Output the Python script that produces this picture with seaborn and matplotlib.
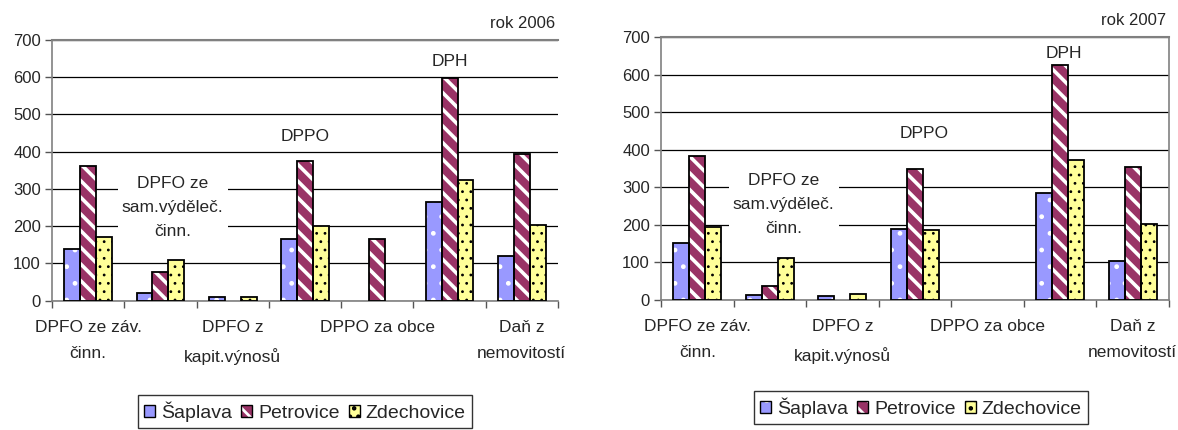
import matplotlib
matplotlib.use("Agg")
import matplotlib.pyplot as plt
from matplotlib.patches import Patch, Rectangle
from matplotlib.legend_handler import HandlerTuple
import seaborn as sns
import pandas as pd

categories = ["DPFO ze záv.\nčinn.", "DPFO ze\nsam.výděleč.\nčinn.", "DPFO z\nkapit.výnosů",
              "DPPO", "DPPO za obce", "DPH", "Daň z\nnemovitostí"]
obce = ["Šaplava", "Petrovice", "Zdechovice"]

saplava_2006 = [138, 20, 11, 167, 0, 266, 120]
petrovice_2006 = [362, 76, 0, 375, 167, 599, 395]
zdechovice_2006 = [171, 110, 11, 200, 0, 323, 204]

saplava_2007 = [152, 14, 11, 189, 0, 285, 105]
petrovice_2007 = [382, 38, 0, 350, 0, 626, 354]
zdechovice_2007 = [193, 111, 15, 185, 0, 372, 202]

years = ["rok 2006", "rok 2007"]

colors = {"Šaplava": "#9999FF", "Petrovice": "#993366", "Zdechovice": "#FFFF99"}
hatches = {"Šaplava": ".", "Petrovice": "\\\\", "Zdechovice": ".."}
hatch_cols = {"Šaplava": "white", "Petrovice": "white", "Zdechovice": "black"}
hatch_lw = {"Šaplava": 1.0, "Petrovice": 2.6, "Zdechovice": 0.8}

sns.set_theme(style="white")
plt.rcParams["font.family"] = ["Liberation Sans", "DejaVu Sans"]
plt.rcParams["hatch.linewidth"] = 2.0

W, H = 1178, 430
fig = plt.figure(figsize=(W / 100, H / 100), dpi=100)

def make_df(s, p, z):
    rows = []
    for vals, name in zip([s, p, z], obce):
        for c, v in zip(categories, vals):
            rows.append({"kat": c, "val": v, "obec": name})
    return pd.DataFrame(rows)

datasets = [make_df(saplava_2006, petrovice_2006, zdechovice_2006),
            make_df(saplava_2007, petrovice_2007, zdechovice_2007)]

axes_px = [(52, 40, 558, 300.7), (661, 37, 1169, 300)]
inner_labels = [
    [(1.17, 250, categories[1]), (3.0, 440, "DPPO"), (5.0, 642, "DPH")],
    [(1.19, 253, categories[1]), (3.12, 444, "DPPO"), (5.05, 657, "DPH")],
]
legend_centers = [(305, 411.5), (921, 407.5)]
FS = 12.5

for k in range(2):
    x0, y0, x1, y1 = axes_px[k]
    ax = fig.add_axes([x0 / W, 1 - y1 / H, (x1 - x0) / W, (y1 - y0) / H])
    df = datasets[k]
    sns.barplot(data=df, x="kat", y="val", hue="obec", hue_order=obce, order=categories,
                palette=colors, width=0.66, ax=ax, legend=False, saturation=1,
                errorbar=None)
    for cont, name in zip(ax.containers, obce):
        for bar in cont:
            bar.set_hatch(hatches[name])
            bar.set_edgecolor(hatch_cols[name])
            bar.set_linewidth(0)
            if hasattr(bar, "set_hatch_linewidth"):
                bar.set_hatch_linewidth(hatch_lw[name])
            h = bar.get_height()
            if h > 0:
                ax.add_patch(Rectangle((bar.get_x(), 0), bar.get_width(), h,
                                       fill=False, edgecolor="black", linewidth=1.3,
                                       zorder=3))
    ax.set_ylim(0, 700)
    ax.set_xlim(-0.5, 6.5)
    ax.set_yticks(range(0, 701, 100))
    ax.yaxis.grid(True, color="black", linewidth=0.9)
    ax.set_axisbelow(True)
    ax.set_xlabel("")
    ax.set_ylabel("")
    ax.set_xticks([i - 0.5 for i in range(8)])
    ax.set_xticklabels([])
    ax.set_xticks([0, 2, 4, 6], minor=True)
    ax.set_xticklabels([categories[i] for i in [0, 2, 4, 6]], minor=True,
                       fontsize=FS, linespacing=1.9)
    ax.tick_params(axis="x", which="major", length=5, width=1, color="#555555",
                   direction="out", bottom=True)
    ax.tick_params(axis="x", which="minor", length=0, pad=14)
    ax.tick_params(axis="y", length=5, width=1, color="#555555", direction="out",
                   left=True, labelsize=12, pad=3)
    for s in ["left", "bottom"]:
        ax.spines[s].set_color("#808080")
        ax.spines[s].set_linewidth(1.2)
    ax.spines["top"].set_color("#808080")
    ax.spines["top"].set_linewidth(1.5)
    ax.spines["right"].set_visible(k == 1)
    ax.spines["right"].set_color("#808080")
    ax.spines["right"].set_linewidth(1.2)

    for (tx, ty, txt) in inner_labels[k]:
        ax.text(tx, ty, txt, ha="center", va="center", fontsize=FS, linespacing=1.75,
                zorder=2,
                bbox=dict(facecolor="white", edgecolor="none", pad=3) if "\n" in txt else None)

    ax.annotate(years[k], xy=(1.0, 1.0), xycoords="axes fraction",
                xytext=(-2, 12), textcoords="offset points",
                ha="right", va="center", fontsize=12)

    handles = []
    for name in obce:
        handles.append((Patch(facecolor=colors[name], hatch=hatches[name],
                              edgecolor=hatch_cols[name], linewidth=0),
                        Patch(fill=False, edgecolor="black", linewidth=1.0)))
    cx, cy = legend_centers[k]
    leg = fig.legend(handles, obce, loc="center", bbox_to_anchor=(cx / W, 1 - cy / H),
                     ncol=3, fontsize=14, frameon=True, fancybox=False,
                     handler_map={tuple: HandlerTuple(ndivide=1)},
                     handlelength=0.55, handleheight=0.55, handletextpad=0.3,
                     columnspacing=0.5, borderpad=0.3, borderaxespad=0)
    leg.get_frame().set_edgecolor("black")
    leg.get_frame().set_linewidth(1.0)

fig.savefig("out.png", dpi=100, facecolor="white")
